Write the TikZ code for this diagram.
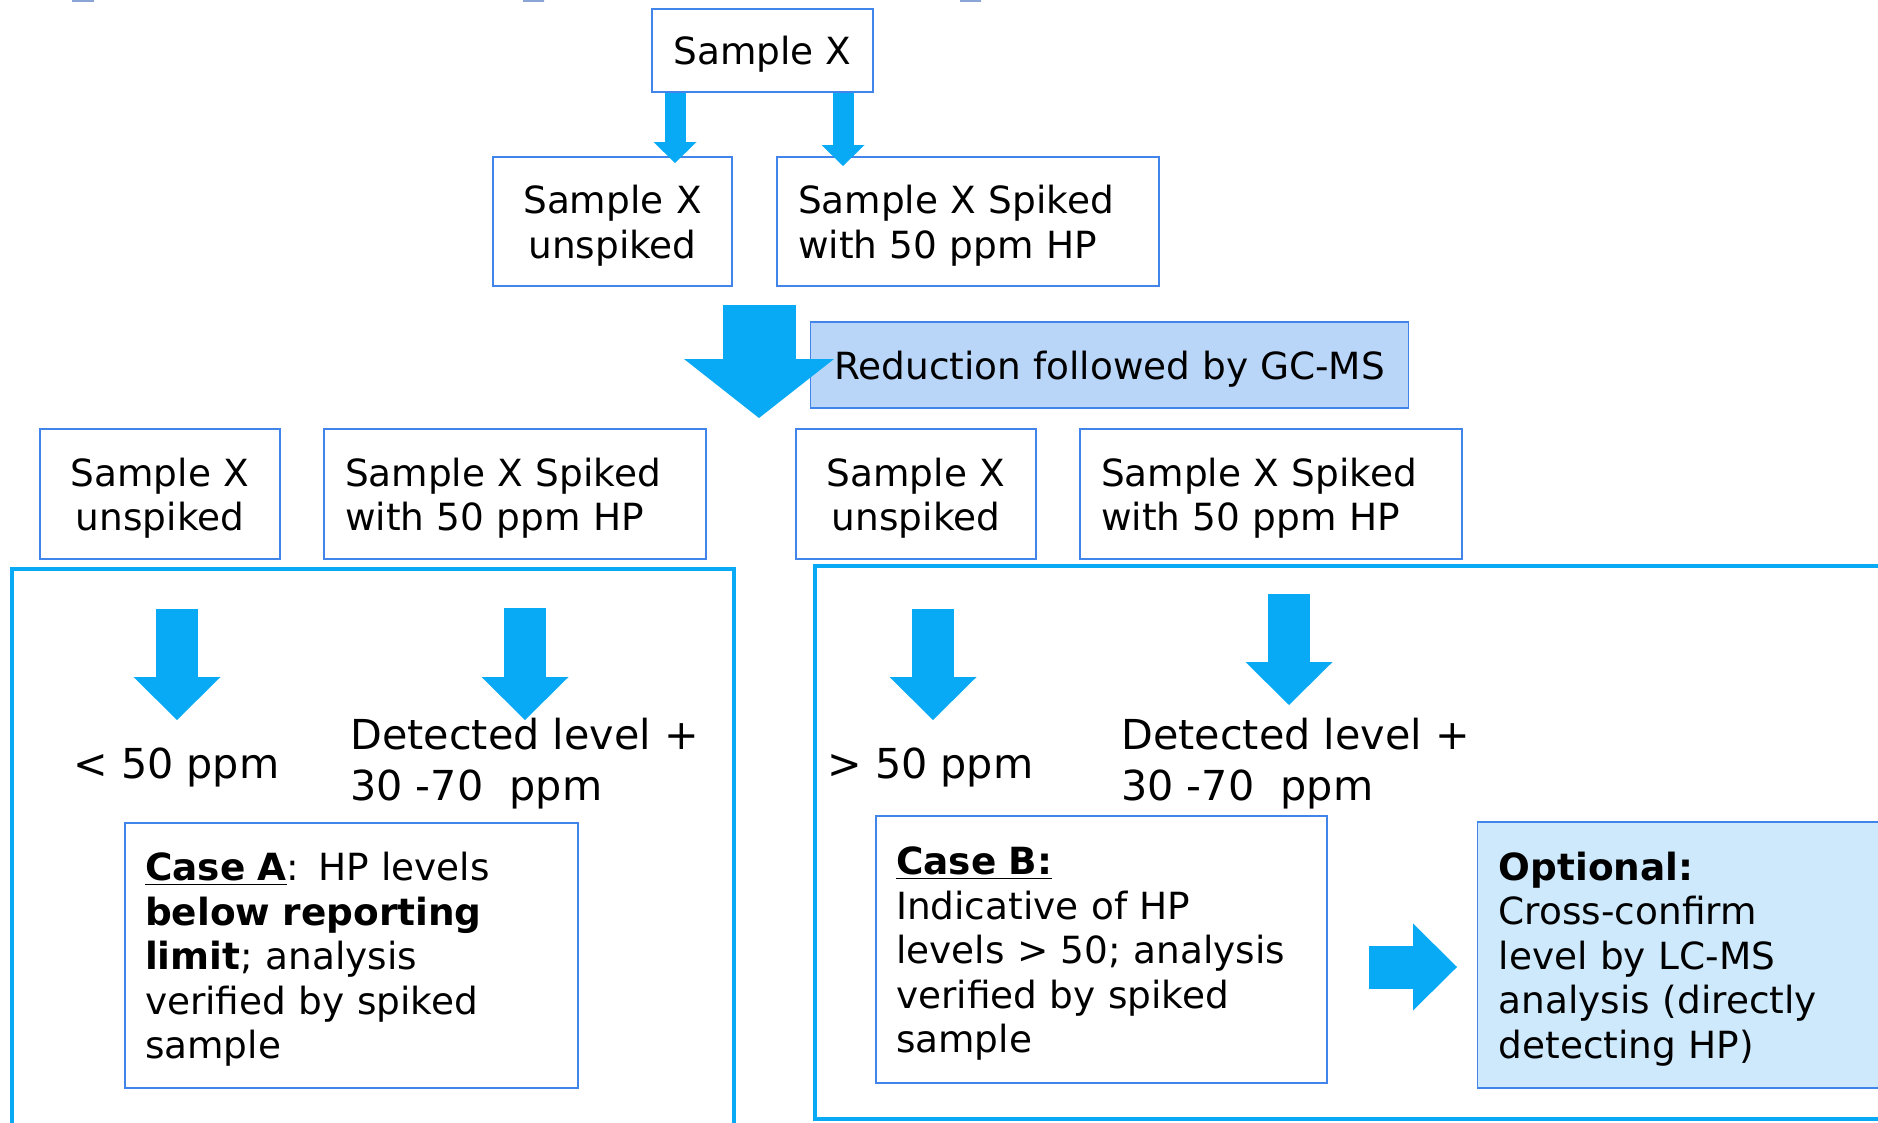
\documentclass[tikz,border=0pt]{standalone}
\usepackage{fontspec}
\setmainfont{DejaVu Sans}
\usetikzlibrary{arrows.meta}
\definecolor{boxblue}{RGB}{66,133,234}
\definecolor{arrowblue}{RGB}{8,170,245}
\definecolor{redfill}{RGB}{185,213,248}
\definecolor{optfill}{RGB}{205,233,251}
\definecolor{edgeblue}{RGB}{140,165,215}
\newcommand\boxfont{\fontsize{21.3}{25.3}\selectfont}
\newcommand\levelfont{\fontsize{23.5}{29}\selectfont}
\begin{document}
\begin{tikzpicture}
[ x=0.02cm, y=-0.02cm
, box/.style={rectangle, draw=boxblue, line width=0.8pt, inner sep=0pt, font=\boxfont, minimum height=2.58cm, execute at begin node={\rule{0pt}{20.7pt}}}
, plainbox/.style={box, text width=4.78cm, align=center}
, spikebox/.style={box, text width=6.8cm, inner xsep=0.42cm, align=left}
, casebox/.style={box, text width=8.26cm, inner xsep=0.4cm, align=left}
, frame/.style={draw=arrowblue, line width=0.08cm}
, level/.style={inner sep=0pt, font=\levelfont, align=left}
, fat/.style n args={3}{draw=arrowblue, line width=#1, -{Triangle[width=#2, length=#3, line width=0pt]}}
]
\useasboundingbox (0,0) rectangle (1878,1122);
% slivers on the top edge
\fill[edgeblue] (72,0) rectangle (94,2) (523,0) rectangle (544,2) (960,0) rectangle (981,2);
% first rows:
\node (sx) [box, minimum width=4.42cm, minimum height=1.66cm] at (762.5,50.5) {Sample X};
\node (ux1) [plainbox] at (612.5,221.5) {Sample X\\unspiked};
\node (spk1) [spikebox] at (968,221.5) {Sample X Spiked\\with 50 ppm HP};
\node (red) [box, fill=redfill, minimum width=11.96cm, minimum height=1.72cm] at (1109.5,365) {Reduction followed by GC-MS};
% third row:
\node (ux2) [plainbox, text width=4.8cm, minimum height=2.6cm] at (160,494) {Sample X\\unspiked};
\node (spk2) [spikebox, minimum height=2.6cm] at (515,494) {Sample X Spiked\\with 50 ppm HP};
\node (ux3) [plainbox, text width=4.8cm, minimum height=2.6cm] at (916,494) {Sample X\\unspiked};
\node (spk3) [spikebox, minimum height=2.6cm] at (1271,494) {Sample X Spiked\\with 50 ppm HP};
% the two cases
\draw[frame] (12,569) rectangle (734,1140);
\draw[frame] (815,566) rectangle (1900,1119);
\node (lowA) [level, anchor=base west] at (73,778) {< 50 ppm};
\node (detA) [level, anchor=north west] at (350,718) {Detected level +\\30 -70\ \ ppm};
\node (highB) [level, anchor=base west] at (827,778) {> 50 ppm};
\node (detB) [level, anchor=north west] at (1121,718) {Detected level +\\30 -70\ \ ppm};
\node (caseA) [casebox, minimum height=5.3cm] at (351.5,955.5)
  {\underline{\textbf{Case A}}: HP levels\\\textbf{below reporting}\\\textbf{limit}; analysis\\verified by spiked\\sample};
\node (caseB) [casebox, text width=8.22cm, minimum height=5.34cm] at (1101.5,949.5)
  {\underline{\textbf{Case B:}}\\Indicative of HP\\levels > 50; analysis\\verified by spiked\\sample};
\node (opt) [box, fill=optfill, anchor=west, text width=7.6cm, inner xsep=0.42cm, align=left, minimum height=5.32cm] at (1477,955)
  {\textbf{Optional:}\\Cross-confirm\\level by LC-MS\\analysis (directly\\detecting HP)};
% arrow ends
\coordinate (t1) at (675,163);
\coordinate (t2) at (843,166);
\coordinate (bs) at (759,305);
\coordinate (bt) at (759,418);
\coordinate (a1s) at (177,609); \coordinate (a1t) at (177,720);
\coordinate (a2s) at (525,608); \coordinate (a2t) at (525,720);
\coordinate (a3s) at (933,609); \coordinate (a3t) at (933,720);
\coordinate (a4s) at (1289,594); \coordinate (a4t) at (1289,705);
\coordinate (rs) at (1369,967); \coordinate (rt) at (1457,967);
\draw[fat={0.42cm}{0.86cm}{0.42cm}] (sx.south -| t1) -- (t1);
\draw[fat={0.42cm}{0.86cm}{0.42cm}] (sx.south -| t2) -- (t2);
\draw[fat={1.46cm}{3cm}{1.18cm}] (bs) -- (bt);
\draw[fat={0.84cm}{1.74cm}{0.86cm}] (a1s) -- (a1t);
\draw[fat={0.84cm}{1.74cm}{0.86cm}] (a2s) -- (a2t);
\draw[fat={0.84cm}{1.74cm}{0.86cm}] (a3s) -- (a3t);
\draw[fat={0.84cm}{1.74cm}{0.86cm}] (a4s) -- (a4t);
\draw[fat={0.86cm}{1.74cm}{0.88cm}] (rs) -- (rt);
\end{tikzpicture}
\end{document}
